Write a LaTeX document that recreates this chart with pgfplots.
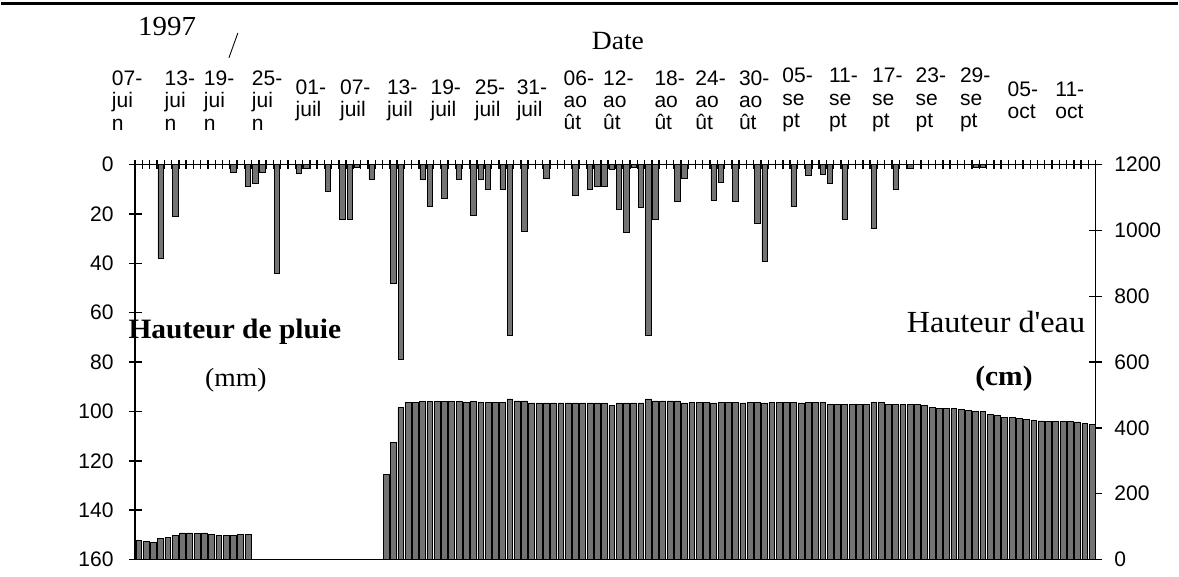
\documentclass[border=0pt]{standalone}
\usepackage{fontspec}
\setmainfont{Liberation Serif}
\setsansfont{Liberation Sans}
\newfontfamily\titlefont[FakeStretch=1.05]{Liberation Serif}
\usepackage{pgfplots}
\pgfplotsset{compat=1.18}

\newcommand{\tickfont}{\fontsize{12}{12.8}\selectfont\sffamily}

\begin{document}
\begin{tikzpicture}
% page frame, origin at the lower left corner of the plot area
\path (-2.68,-0.34) rectangle (20.90,11.22);
\draw[line width=0.06cm] (-2.68,11.14) -- (20.90,11.14);

% Hauteur d'eau (cm), bars from the bottom
\begin{axis}[
  scale only axis, width=19.26cm, height=7.92cm,
  xmin=-0.5, xmax=131.5, ymin=0, ymax=1200,
  axis x line=bottom, axis y line=right,
  axis line style={-, line width=0.8pt},
  xtick=\empty,
  ytick={0,200,...,1200},
  tick align=center, major tick length=0.26cm,
  tick style={line width=0.8pt, black},
  yticklabel style={font=\tickfont, xshift=0.12cm},
  /pgf/number format/assume math mode=true,
  /pgf/number format/1000 sep={},
]
\addplot[ybar, bar width=0.8, fill=black!55, draw=black, line width=0.4pt] coordinates {
  (0,58) (1,55) (2,53) (3,64) (4,66) (5,74) (6,81) (7,81) (8,79) (9,81)
  (10,77) (11,74) (12,74) (13,74) (14,76) (15,76)
  (34,258) (35,357) (36,463) (37,478) (38,478) (39,480)
  (40,481) (41,481) (42,481) (43,480) (44,481) (45,478) (46,480) (47,478) (48,478) (49,478)
  (50,478) (51,488) (52,482) (53,482) (54,476) (55,476) (56,476) (57,476) (58,476) (59,476)
  (60,476) (61,476) (62,476) (63,476) (64,476) (65,468) (66,476) (67,476) (68,476) (69,476)
  (70,488) (71,482) (72,482) (73,482) (74,482) (75,476) (76,478) (77,478) (78,478) (79,476)
  (80,478) (81,478) (82,478) (83,476) (84,478) (85,478) (86,476) (87,478) (88,478) (89,478)
  (90,478) (91,476) (92,478) (93,478) (94,478) (95,471) (96,471) (97,471) (98,471) (99,471)
  (100,471) (101,478) (102,478) (103,471) (104,471) (105,471) (106,471) (107,471) (108,468) (109,462)
  (110,460) (111,458) (112,458) (113,457) (114,452) (115,450) (116,449) (117,440) (118,437) (119,433)
  (120,432) (121,430) (122,425) (123,424) (124,421) (125,419) (126,419) (127,419) (128,419) (129,418)
  (130,413) (131,410)
};
\end{axis}

% Hauteur de pluie (mm), bars hanging from the top
\begin{axis}[
  scale only axis, width=19.26cm, height=7.92cm,
  xmin=-0.5, xmax=131.5, ymin=0, ymax=160, y dir=reverse,
  axis x line=top, axis y line=left,
  axis line style={-, line width=0.8pt},
  ytick={0,20,...,160},
  xtick={-0.5,5.65,11.04,17.63,23.65,29.75,36.2,42.19,48.27,54.03,60.48,65.91,
         72.96,78.59,84.57,90.53,96.84,102.87,108.85,114.94,121.5,127.94},
  xticklabels={{07-\hspace*{0.32cm}\\jui\\n},{13-\\jui\\n},{19-\\jui\\n},{25-\\jui\\n},
    {01-\\juil},{07-\\juil},{13-\\juil},{19-\\juil},{25-\\juil},{31-\\juil},
    {06-\\ao\\ût},{12-\\ao\\ût},{18-\\ao\\ût},{24-\\ao\\ût},{30-\\ao\\ût},
    {05-\\se\\pt},{11-\\se\\pt},{17-\\se\\pt},{23-\\se\\pt},{29-\\se\\pt},
    {05-\\oct},{11-\\oct}},
  minor xtick={-0.5,0.5,...,131.5},
  tick align=center, major tick length=0.26cm, minor tick length=0.18cm,
  tick style={line width=0.8pt, black},
  every major x tick/.append style={draw=none},
  xticklabel style={font=\tickfont, align=left, anchor=center, yshift=1.16cm,
    execute at begin node={\setlength{\baselineskip}{0.45cm}}},
  yticklabel style={font=\tickfont, xshift=-0.18cm},
  /pgf/number format/assume math mode=true,
]
\addplot[ybar, bar width=0.75, fill=black!55, draw=black, line width=0.4pt] coordinates {
  (3,38) (5,21) (13,3) (15,9) (16,7.5) (17,3) (19,44) (22,3.5) (23,1.5) (26,11)
  (28,22) (29,22) (30,1) (32,6) (35,48) (36,79) (39,6) (40,17) (42,13.5) (44,6)
  (46,20.5) (47,6) (48,10) (50,10) (51,69) (53,27) (56,5.5) (60,12.5) (62,10) (63,9)
  (64,9) (65,2) (66,18) (67,27.5) (68,1) (69,17.5) (70,69) (71,22) (74,15) (75,5.5)
  (79,14.5) (80,7) (82,15) (85,23.7) (86,39) (90,17) (92,4.5) (94,4) (95,7.5) (97,22)
  (101,26) (104,10) (106,1.5) (115,1.2) (116,1.2)
};
\end{axis}

\node[font=\titlefont\fontsize{15.7}{18}\selectfont] at (0.64,10.68) {1997};
\draw[line width=0.5pt] (2.06,10.56) -- (1.88,10.06);
\node[font=\titlefont\fontsize{15}{18}\selectfont] at (9.68,10.40) {Date};
\node[font=\titlefont\bfseries\fontsize{16}{18}\selectfont] at (2.00,4.56) {Hauteur de pluie};
\node[font=\titlefont\fontsize{15}{18}\selectfont] at (2.02,3.60) {(mm)};
\node[font=\titlefont\fontsize{17.5}{20}\selectfont] at (17.26,4.76) {Hauteur d'eau};
\node[font=\titlefont\bfseries\fontsize{16}{18}\selectfont] at (17.42,3.62) {(cm)};
\end{tikzpicture}
\end{document}
